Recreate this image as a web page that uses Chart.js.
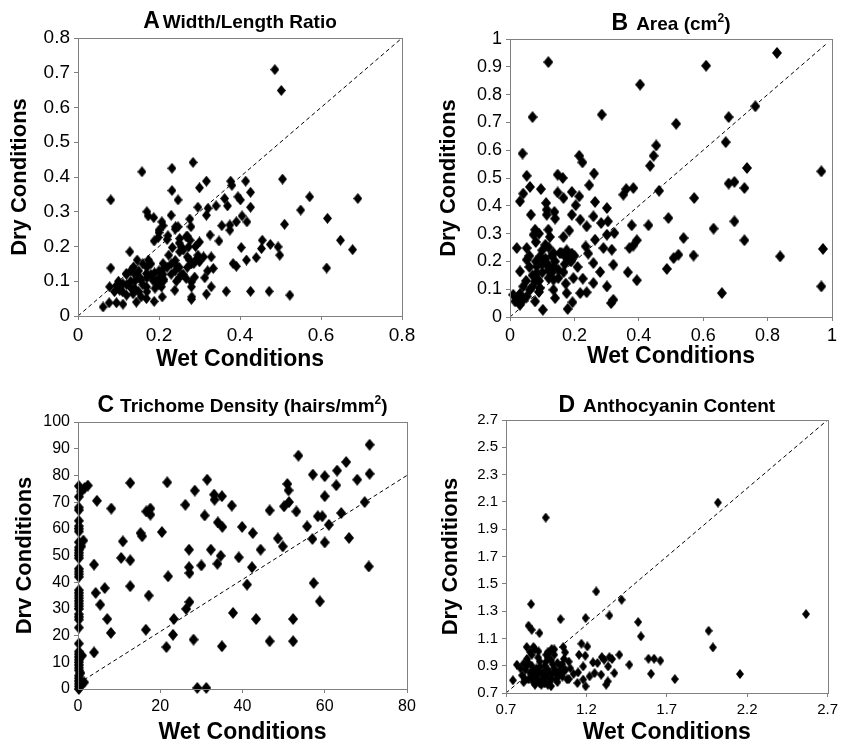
<!DOCTYPE html>
<html>
<head>
<meta charset="utf-8">
<script src="https://cdn.jsdelivr.net/npm/chart.js@4.4.0/dist/chart.umd.min.js"></script>
<style>
  html, body { margin: 0; padding: 0; background: #fff; }
  #wrap { position: relative; width: 842px; height: 744px; }
  canvas { position: absolute; }
</style>
</head>
<body>
<div id="wrap">
  <canvas id="chartA" width="421" height="374" style="left:0;top:0"></canvas>
  <canvas id="chartB" width="421" height="374" style="left:421px;top:0"></canvas>
  <canvas id="chartC" width="421" height="370" style="left:0;top:374px"></canvas>
  <canvas id="chartD" width="421" height="370" style="left:421px;top:374px"></canvas>
</div>
<script>
// valores: [molhado, seco]
const pointsA = [
  [0.486,0.709],[0.502,0.649],[0.284,0.442],[0.232,0.425],[0.158,0.415],[0.505,0.394],[0.317,0.388],[0.300,0.369],
  [0.232,0.361],[0.377,0.388],[0.414,0.388],[0.380,0.376],[0.426,0.356],[0.572,0.343],[0.691,0.338],[0.081,0.334],
  [0.247,0.334],[0.395,0.343],[0.401,0.334],[0.362,0.338],[0.369,0.317],[0.341,0.317],[0.296,0.313],[0.321,0.310],
  [0.426,0.313],[0.550,0.305],[0.170,0.300],[0.173,0.288],[0.230,0.290],[0.317,0.290],[0.405,0.288],[0.616,0.281],
  [0.276,0.279],[0.187,0.283],[0.207,0.271],[0.510,0.264],[0.355,0.260],[0.375,0.262],[0.417,0.271],[0.391,0.271],
  [0.241,0.257],[0.279,0.257],[0.375,0.247],[0.247,0.257],[0.200,0.247],[0.222,0.231],[0.198,0.226],[0.267,0.228],
  [0.277,0.218],[0.188,0.216],[0.251,0.223],[0.326,0.233],[0.348,0.216],[0.455,0.218],[0.648,0.218],[0.300,0.213],
  [0.255,0.199],[0.233,0.197],[0.273,0.199],[0.403,0.197],[0.453,0.194],[0.475,0.206],[0.494,0.199],[0.678,0.191],
  [0.128,0.185],[0.251,0.185],[0.224,0.175],[0.296,0.175],[0.329,0.170],[0.440,0.168],[0.498,0.175],[0.416,0.161],
  [0.383,0.151],[0.391,0.143],[0.300,0.156],[0.276,0.161],[0.286,0.151],[0.239,0.151],[0.210,0.151],[0.174,0.161],
  [0.146,0.161],[0.081,0.138],[0.614,0.138],[0.334,0.137],[0.137,0.141],[0.212,0.138],[0.313,0.110],[0.288,0.112],
  [0.256,0.119],[0.119,0.122],[0.169,0.122],[0.189,0.124],[0.152,0.112],[0.156,0.103],[0.185,0.103],[0.212,0.105],
  [0.243,0.100],[0.267,0.108],[0.280,0.098],[0.329,0.084],[0.078,0.084],[0.095,0.088],[0.103,0.074],[0.111,0.093],
  [0.132,0.079],[0.169,0.084],[0.206,0.084],[0.239,0.074],[0.280,0.084],[0.366,0.071],[0.426,0.071],[0.472,0.071],
  [0.523,0.060],[0.317,0.063],[0.281,0.055],[0.280,0.048],[0.208,0.055],[0.188,0.042],[0.144,0.040],[0.111,0.034],
  [0.095,0.038],[0.077,0.038],[0.062,0.026],[0.136,0.064],[0.156,0.055],[0.169,0.050],
  [0.12,0.09],[0.13,0.10],[0.14,0.12],[0.15,0.13],[0.16,0.15],[0.17,0.14],[0.18,0.12],[0.19,0.10],[0.20,0.13],
  [0.20,0.11],[0.21,0.12],[0.22,0.14],[0.11,0.07],[0.10,0.08],[0.12,0.06],[0.14,0.08],[0.16,0.09],[0.17,0.07],
  [0.19,0.08],[0.21,0.10],[0.23,0.12],[0.24,0.13],[0.25,0.11],[0.26,0.12],[0.27,0.14],[0.28,0.15],[0.14,0.10],
  [0.13,0.13],[0.15,0.11],[0.18,0.15],[0.17,0.11],[0.09,0.07],[0.10,0.10],[0.12,0.12],[0.15,0.07],[0.20,0.09],
  [0.20,0.24],[0.21,0.26],[0.22,0.22],[0.24,0.25],[0.25,0.21],[0.26,0.19],[0.27,0.23],[0.29,0.20],[0.29,0.16],
  [0.27,0.17],[0.24,0.16],[0.23,0.15],[0.25,0.14],[0.31,0.17],[0.32,0.13]
];
const pointsB = [
  [0.829,0.950],[0.119,0.917],[0.609,0.904],[0.404,0.836],[0.762,0.758],[0.285,0.728],[0.070,0.719],[0.679,0.719],
  [0.516,0.695],[0.670,0.629],[0.454,0.617],[0.039,0.588],[0.215,0.580],[0.446,0.580],[0.225,0.556],[0.435,0.544],
  [0.736,0.536],[0.967,0.524],[0.052,0.508],[0.261,0.516],[0.148,0.512],[0.164,0.500],[0.246,0.474],[0.062,0.468],
  [0.383,0.464],[0.361,0.460],[0.679,0.480],[0.697,0.486],[0.728,0.464],[0.096,0.460],[0.463,0.454],[0.192,0.450],
  [0.215,0.434],[0.352,0.440],[0.148,0.448],[0.166,0.428],[0.041,0.444],[0.031,0.416],[0.112,0.410],[0.264,0.414],
  [0.572,0.428],[0.204,0.402],[0.301,0.392],[0.114,0.386],[0.192,0.368],[0.065,0.368],[0.138,0.378],[0.114,0.368],
  [0.304,0.344],[0.218,0.350],[0.259,0.362],[0.492,0.356],[0.697,0.344],[0.140,0.354],[0.283,0.338],[0.238,0.326],
  [0.378,0.330],[0.430,0.330],[0.632,0.318],[0.119,0.314],[0.078,0.314],[0.184,0.311],[0.324,0.302],[0.301,0.296],
  [0.073,0.296],[0.124,0.288],[0.166,0.288],[0.539,0.284],[0.264,0.278],[0.728,0.276],[0.394,0.276],[0.383,0.257],
  [0.021,0.248],[0.052,0.248],[0.235,0.254],[0.972,0.245],[0.290,0.248],[0.316,0.242],[0.371,0.248],[0.523,0.224],
  [0.508,0.212],[0.570,0.221],[0.839,0.218],[0.243,0.228],[0.155,0.230],[0.192,0.228],[0.135,0.230],[0.176,0.240],
  [0.093,0.218],[0.052,0.206],[0.114,0.194],[0.259,0.194],[0.321,0.188],[0.487,0.173],[0.083,0.182],[0.135,0.182],
  [0.031,0.164],[0.280,0.162],[0.366,0.161],[0.083,0.158],[0.119,0.168],[0.166,0.161],[0.197,0.140],[0.226,0.138],
  [0.394,0.132],[0.078,0.128],[0.135,0.134],[0.259,0.122],[0.173,0.120],[0.301,0.110],[0.967,0.110],[0.041,0.110],
  [0.093,0.104],[0.135,0.098],[0.062,0.098],[0.176,0.086],[0.218,0.086],[0.238,0.089],[0.658,0.086],[0.031,0.083],
  [0.010,0.080],[0.021,0.068],[0.041,0.062],[0.016,0.056],[0.031,0.044],[0.078,0.056],[0.140,0.068],[0.194,0.053],
  [0.179,0.029],[0.102,0.026],[0.321,0.062],[0.314,0.050],[0.052,0.074],
  [0.07,0.15],[0.08,0.20],[0.09,0.13],[0.10,0.16],[0.11,0.21],[0.12,0.18],[0.13,0.22],[0.14,0.20],[0.15,0.17],
  [0.16,0.23],[0.17,0.22],[0.18,0.21],[0.19,0.20],[0.10,0.24],[0.11,0.26],[0.06,0.18],[0.07,0.11],[0.09,0.09],
  [0.12,0.14],[0.13,0.16],[0.06,0.22],[0.08,0.27],[0.09,0.30],[0.12,0.25],[0.15,0.14],[0.17,0.19],[0.05,0.13],
  [0.10,0.19],[0.20,0.22],[0.21,0.18]
];
const pointsC = [
  [70.9,91.5],[53.6,87.4],[65.2,85.0],[63.0,81.8],[57.1,80.3],[60.0,79.7],[70.9,80.6],[67.9,78.4],[31.4,78.4],
  [21.7,77.4],[12.7,77.2],[50.9,76.8],[62.8,76.3],[28.4,74.3],[51.2,74.4],[33.1,72.8],[35.0,72.2],[33.2,70.9],
  [60.0,72.2],[4.6,70.5],[51.3,70.0],[69.7,70.0],[8.1,67.6],[17.6,67.6],[26.1,69.0],[37.4,68.7],[50.1,68.4],
  [16.6,66.5],[17.6,65.3],[46.6,66.9],[53.1,66.5],[30.8,65.0],[58.3,64.7],[59.4,64.7],[64.0,65.9],[34.0,62.4],
  [35.1,60.7],[39.9,60.7],[55.7,60.9],[61.0,61.5],[20.4,58.8],[15.2,58.4],[15.6,57.2],[42.5,58.4],[48.6,56.4],
  [57.0,56.2],[65.9,56.6],[60.0,54.9],[10.9,55.3],[49.8,53.4],[32.3,52.2],[27.0,52.2],[44.4,52.2],[10.5,49.1],
  [12.7,48.2],[39.1,49.3],[34.7,49.9],[3.9,46.6],[30.0,46.3],[33.9,46.9],[27.0,45.6],[27.1,43.4],[42.3,45.6],
  [70.7,45.9],[21.9,42.2],[41.1,39.1],[57.3,39.7],[4.3,36.0],[6.5,37.8],[12.7,38.5],[17.2,35.0],[5.4,31.6],
  [27.1,32.6],[58.8,32.8],[26.3,30.0],[37.7,28.5],[7.1,26.2],[23.3,26.2],[43.3,26.2],[52.3,26.2],[16.5,22.2],
  [8.0,21.0],[23.1,20.3],[28.1,18.5],[46.6,17.9],[52.3,17.9],[21.5,15.7],[35.0,16.0],[3.9,13.7],[29.0,0.4],
  [31.2,0.4],[1.6,75.3],[2.4,76.2],[0.8,74.0],[1.3,55.6],[0.8,53.4],[1.5,2.5],[0.8,1.5],[1.0,12.5],[0.6,6.0],
  [0.2,76],[0.2,72],[0.2,68],[0.2,67],[0.2,63],[0.2,61],[0.2,60],[0.2,59],[0.2,55],[0.2,53],[0.2,52],[0.2,51],
  [0.2,50],[0.2,49],[0.2,45],[0.2,44],[0.2,43],[0.2,42],[0.2,37],[0.2,36],[0.2,35],[0.2,34],[0.2,33],[0.2,32],
  [0.2,31],[0.2,30],[0.2,28],[0.2,27],[0.2,26],[0.2,23],[0.2,17],[0.2,14],[0.2,13],[0.2,12],[0.2,11],[0.2,10],
  [0.2,9],[0.2,8],[0.2,7],[0.2,5],[0.2,4],[0.2,3],[0.2,2],[0.2,1],[0.2,0]
];
const pointsD = [
  [2.018,2.095],[0.947,1.985],[1.261,1.444],[1.419,1.383],[0.856,1.351],[2.566,1.278],[1.343,1.268],[1.039,1.241],
  [1.195,1.249],[1.522,1.220],[0.840,1.193],[0.860,1.163],[1.960,1.156],[0.908,1.139],[1.539,1.115],[1.987,1.034],
  [1.169,1.061],[1.206,1.041],[0.829,1.037],[0.871,1.037],[1.056,1.037],[0.984,1.022],[0.902,1.005],[0.959,0.998],
  [1.068,0.998],[1.154,0.980],[1.193,0.973],[1.405,0.980],[1.296,0.963],[1.343,0.963],[1.360,0.949],[1.310,0.944],
  [1.586,0.951],[1.621,0.951],[1.660,0.937],[1.241,0.924],[1.269,0.920],[1.467,0.907],[0.768,0.907],[0.809,0.915],
  [1.180,0.895],[1.335,0.895],[2.155,0.839],[1.602,0.841],[1.374,0.846],[1.148,0.851],[1.251,0.846],[1.292,0.834],
  [1.220,0.822],[1.750,0.802],[1.091,0.802],[1.180,0.798],[1.333,0.785],[0.743,0.793],[1.144,0.773],[1.195,0.749],
  [1.323,0.761],
  [0.80,0.83],[0.82,0.87],[0.84,0.80],[0.85,0.85],[0.86,0.90],[0.87,0.78],[0.88,0.83],[0.89,0.88],[0.90,0.80],
  [0.91,0.93],[0.92,0.76],[0.93,0.85],[0.94,0.90],[0.95,0.82],[0.96,0.87],[0.97,0.78],[0.98,0.94],[0.99,0.84],
  [1.00,0.88],[1.01,0.80],[1.02,0.92],[1.03,0.86],[1.04,0.90],[1.05,0.82],[1.06,0.95],[1.07,0.87],[1.08,0.80],
  [0.83,0.95],[0.86,0.98],[0.88,0.76],[0.90,0.96],[0.92,0.84],[0.94,0.77],[0.96,0.96],[0.98,0.75],[1.00,0.98],
  [1.02,0.78],[0.79,0.88],[0.81,0.78],[0.84,0.92],[0.87,0.86],[0.89,0.81],[0.91,0.89],[0.93,0.79],[0.95,0.93],
  [0.97,0.85],[0.99,0.91],[1.01,0.85],[1.03,0.83],[1.05,0.91],[0.85,1.00],[0.88,1.02],[0.97,1.00],[1.00,1.02],
  [0.95,0.98],[1.10,0.88],[1.12,0.84],[1.09,0.93],[0.82,0.80],[0.86,0.82],[0.90,0.85],[0.94,0.81],[0.98,0.80],
  [1.04,0.84],[0.91,0.77],[0.96,0.76],[1.06,0.86],[0.83,0.90]
];

// linhas de referência (1:1)
const diagA = [[0, 0], [0.8, 0.8]];
const diagB = [[0, 0], [0.98, 0.98]];
const diagC = [[0, 2], [80, 80]];
const diagD = [[0.7, 0.7], [2.7, 2.7]];

// marcas dos eixos
const xTicksA = [0, 0.2, 0.4, 0.6, 0.8];
const yTicksA = [0, 0.1, 0.2, 0.3, 0.4, 0.5, 0.6, 0.7, 0.8];
const xTicksB = [0, 0.2, 0.4, 0.6, 0.8, 1];
const yTicksB = [0, 0.1, 0.2, 0.3, 0.4, 0.5, 0.6, 0.7, 0.8, 0.9, 1];
const xTicksC = [0, 20, 40, 60, 80];
const yTicksC = [0, 10, 20, 30, 40, 50, 60, 70, 80, 90, 100];
const xTicksD = [0.7, 1.2, 1.7, 2.2, 2.7];
const yTicksD = [0.7, 0.9, 1.1, 1.3, 1.5, 1.7, 1.9, 2.1, 2.3, 2.5, 2.7];

const FONT = '"Liberation Sans", Arial, Helvetica, sans-serif';
const GRAY = '#808080';

// losango um pouco mais alto que largo, como no original
function diamond(w, h) {
    const c = document.createElement('canvas');
    c.width = w;
    c.height = h;
    const g = c.getContext('2d');
    g.fillStyle = '#000';
    g.beginPath();
    g.moveTo(w / 2, 0);
    g.lineTo(w, h / 2);
    g.lineTo(w / 2, h);
    g.lineTo(0, h / 2);
    g.closePath();
    g.fill();
    return c;
}

// título do painel: letra grande + texto menor (com sobrescrito opcional)
const panelTitle = {
    id: 'panelTitle',
    afterDraw(chart, args, opts) {
        const ctx = chart.ctx;
        const area = chart.chartArea;
        ctx.save();
        ctx.fillStyle = '#000';
        ctx.textBaseline = 'alphabetic';
        ctx.textAlign = 'left';
        const bigFont = `bold 23px ${FONT}`;
        const smallFont = `bold 19px ${FONT}`;
        const supFont = `bold 12px ${FONT}`;
        ctx.font = bigFont;
        let total = ctx.measureText(opts.letter).width + opts.gap;
        opts.parts.forEach(p => {
            ctx.font = p.sup ? supFont : smallFont;
            total += ctx.measureText(p.text).width;
        });
        let x = (area.left + area.right) / 2 - total / 2;
        ctx.font = bigFont;
        ctx.fillText(opts.letter, x, opts.y);
        x += ctx.measureText(opts.letter).width + opts.gap;
        opts.parts.forEach(p => {
            ctx.font = p.sup ? supFont : smallFont;
            ctx.fillText(p.text, x, p.sup ? opts.y - 8 : opts.y);
            x += ctx.measureText(p.text).width;
        });
        // moldura da área de plotagem
        ctx.strokeStyle = GRAY;
        ctx.lineWidth = 1;
        ctx.strokeRect(Math.round(area.left) + 0.5, Math.round(area.top) + 0.5,
            Math.round(area.right - area.left), Math.round(area.bottom - area.top));
        ctx.restore();
    }
};

function makeAxis(ticks, title, size, tickSize, titleSize, titlePad) {
    return {
        type: 'linear',
        min: ticks[0],
        max: ticks[ticks.length - 1],
        afterBuildTicks: s => { s.ticks = ticks.map(v => ({ value: v })); },
        afterFit: s => { if (s.isHorizontal()) s.height = size; else s.width = size; },
        grid: { drawOnChartArea: false, drawTicks: true, tickLength: 4, color: GRAY },
        border: { display: true, color: GRAY, width: 1 },
        ticks: {
            color: '#000', autoSkip: false, maxRotation: 0, padding: 4,
            font: { family: FONT, size: tickSize },
            callback: v => String(v)
        },
        title: {
            display: true, text: title, color: '#000', padding: titlePad,
            font: { family: FONT, size: titleSize, weight: 'bold', lineHeight: 1 }
        }
    };
}

function createPanel(canvasId, points, diag, p) {
    const toXY = arr => arr.map(d => ({ x: d[0], y: d[1] }));
    return new Chart(document.getElementById(canvasId), {
        type: 'scatter',
        data: {
            datasets: [
                {
                    data: toXY(points), pointStyle: diamond(p.mark[0], p.mark[1]), pointRadius: 5,
                    backgroundColor: '#000', borderColor: '#000', borderWidth: 0, order: 0, clip: false
                },
                {
                    type: 'line', data: toXY(diag), borderColor: '#000', borderWidth: 1,
                    borderDash: [4, 3], pointRadius: 0, fill: false, order: 1
                }
            ]
        },
        options: {
            responsive: false, animation: false, devicePixelRatio: 1,
            layout: { padding: { top: p.top, right: p.right, left: 0, bottom: 0 } },
            plugins: {
                legend: { display: false }, tooltip: { enabled: false },
                panelTitle: { letter: p.letter, parts: p.parts, y: p.titleY, gap: p.gap }
            },
            scales: {
                x: makeAxis(p.xTicks, 'Wet Conditions', p.xSize, p.tickSize, 23, { top: 0, bottom: p.xTitlePad }),
                y: makeAxis(p.yTicks, p.yTitle, p.ySize, p.tickSize, 22, { top: p.yTitlePad, bottom: 0 })
            }
        },
        plugins: [panelTitle]
    });
}

createPanel('chartA', pointsA, diagA, {
    letter: 'A', parts: [{ text: 'Width/Length Ratio' }], titleY: 28, gap: 3,
    xTicks: xTicksA, yTicks: yTicksA, yTitle: 'Dry Conditions', mark: [9, 11], tickSize: 19,
    top: 38, right: 19, ySize: 78, xSize: 58, xTitlePad: 3, yTitlePad: 9
});
createPanel('chartB', pointsB, diagB, {
    letter: 'B', parts: [{ text: 'Area (cm' }, { text: '2', sup: true }, { text: ')' }], titleY: 30, gap: 8,
    xTicks: xTicksB, yTicks: yTicksB, yTitle: 'Dry Conditions', mark: [10, 12], tickSize: 18,
    top: 39, right: 10, ySize: 89, xSize: 57, xTitlePad: 6, yTitlePad: 17
});
createPanel('chartC', pointsC, diagC, {
    letter: 'C', parts: [{ text: 'Trichome Density (hairs/mm' }, { text: '2', sup: true }, { text: ')' }], titleY: 38, gap: 6,
    xTicks: xTicksC, yTicks: yTicksC, yTitle: 'Drv Conditions', mark: [10, 12], tickSize: 16,
    top: 48, right: 14, ySize: 78, xSize: 55, xTitlePad: 0, yTitlePad: 14
});
createPanel('chartD', pointsD, diagD, {
    letter: 'D', parts: [{ text: 'Anthocyanin Content' }], titleY: 38, gap: 8,
    xTicks: xTicksD, yTicks: yTicksD, yTitle: 'Dry Conditions', mark: [8, 10], tickSize: 15,
    top: 46, right: 12, ySize: 85, xSize: 51, xTitlePad: 0, yTitlePad: 19
});
</script>
</body>
</html>
